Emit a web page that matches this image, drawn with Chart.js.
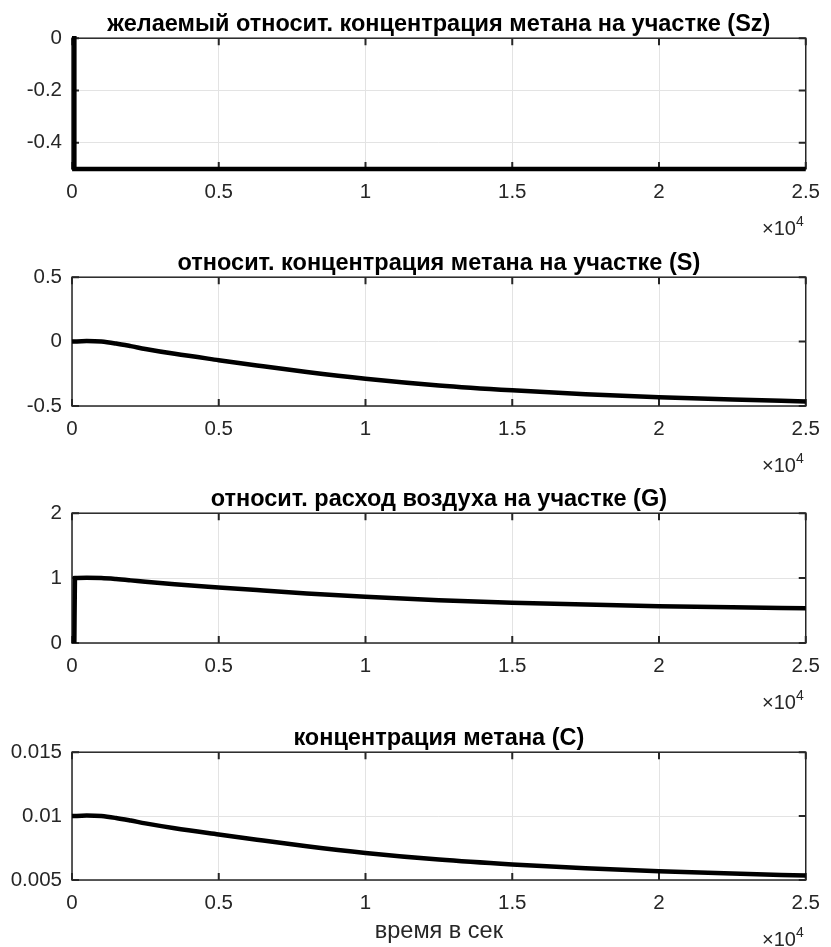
<!DOCTYPE html>
<html>
<head>
<meta charset="utf-8">
<title>Метан на участке</title>
<script src="https://cdn.jsdelivr.net/npm/chart.js@4"></script>
<style>
  html, body { margin: 0; padding: 0; background: #fff; }
  body { width: 831px; height: 947px; position: relative; overflow: hidden; }
  canvas { position: absolute; left: 0; }
</style>
</head>
<body>
<canvas id="p1" width="831" height="239" style="top:0px"></canvas>
<canvas id="p2" width="831" height="237" style="top:239px"></canvas>
<canvas id="p3" width="831" height="238" style="top:475px"></canvas>
<canvas id="p4" width="831" height="233" style="top:714px"></canvas>
<script>
// time, s
const tSec = [0, 500, 1000, 1500, 2000, 2500, 3500, 5000, 6300, 8000, 10000, 12500, 15000, 17500, 20000, 22500, 25000];

// Sz - desired relative concentration (step at start)
const szT = [0, 80, 80, 25000];
const szVal = [0, 0, -0.5, -0.5];

// S - relative methane concentration
const sVal = [0, 0.004, 0, -0.015, -0.035, -0.057, -0.095, -0.144, -0.185, -0.236, -0.288, -0.34, -0.378, -0.408, -0.432, -0.45, -0.465];

// G - relative air flow (starts from 0)
const gT = [80, 100, 500, 1000, 1500, 2000, 2500, 3500, 5000, 6300, 8000, 10000, 12500, 15000, 17500, 20000, 22500, 25000];
const gVal = [0, 1.0, 1.004, 1.0, 0.985, 0.965, 0.943, 0.905, 0.856, 0.815, 0.764, 0.712, 0.66, 0.622, 0.592, 0.568, 0.55, 0.535];

// C - methane concentration
const cVal = [0.01, 0.01004, 0.01, 0.00985, 0.00965, 0.00943, 0.00905, 0.00856, 0.00815, 0.00764, 0.00712, 0.0066, 0.00622, 0.00592, 0.00568, 0.0055, 0.00535];

const xTicks = [0, 5000, 10000, 15000, 20000, 25000];
const xTickLabels = ['0', '0.5', '1', '1.5', '2', '2.5'];

const yTicks1 = [-0.4, -0.2, 0];
const yLabels1 = ['-0.4', '-0.2', '0'];
const yTicks2 = [-0.5, 0, 0.5];
const yLabels2 = ['-0.5', '0', '0.5'];
const yTicks3 = [0, 1, 2];
const yLabels3 = ['0', '1', '2'];
const yTicks4 = [0.005, 0.01, 0.015];
const yLabels4 = ['0.005', '0.01', '0.015'];

const titles = [
  'желаемый относит. концентрация метана на участке (Sz)',
  'относит. концентрация метана на участке (S)',
  'относит. расход воздуха на участке (G)',
  'концентрация метана (C)'
];
const xLabel = 'время в сек';

const FONT = '"Liberation Sans", Arial, Helvetica, sans-serif';
const TXT = '#262626';
const GRID = '#e3e3e3';

// axes box, inward tick marks and the x10^4 exponent
const frame = {
  id: 'frame',
  beforeDatasetsDraw(chart) {
    const { ctx, chartArea: a, scales: { x, y } } = chart;
    ctx.save();
    ctx.strokeStyle = TXT;
    ctx.lineWidth = 1.5;
    ctx.strokeRect(a.left, a.top, a.right - a.left, a.bottom - a.top);
    ctx.lineWidth = 2;
    ctx.beginPath();
    x.ticks.forEach(t => {
      const px = x.getPixelForValue(t.value);
      ctx.moveTo(px, a.bottom); ctx.lineTo(px, a.bottom - 7);
      ctx.moveTo(px, a.top); ctx.lineTo(px, a.top + 7);
    });
    y.ticks.forEach(t => {
      const py = y.getPixelForValue(t.value);
      ctx.moveTo(a.left, py); ctx.lineTo(a.left + 7, py);
      ctx.moveTo(a.right, py); ctx.lineTo(a.right - 7, py);
    });
    ctx.stroke();
    ctx.restore();
  },
  afterDraw(chart) {
    const { ctx, chartArea: a } = chart;
    const base = a.bottom + 66;
    ctx.save();
    ctx.fillStyle = TXT;
    ctx.textBaseline = 'alphabetic';
    ctx.textAlign = 'right';
    ctx.font = '14px ' + FONT;
    const w4 = ctx.measureText('4').width;
    ctx.fillText('4', a.right - 2, base - 9);
    ctx.font = '20px ' + FONT;
    ctx.fillText('×10', a.right - 2 - w4, base);
    ctx.restore();
  }
};

function makePlot(id, xs, ys, yMin, yMax, yTicks, yLabels, title, xAxisH, smooth, xlab) {
  const pts = xs.map((x, i) => ({ x: x, y: ys[i] }));
  return new Chart(document.getElementById(id), {
    type: 'line',
    data: {
      datasets: [{
        data: pts,
        borderColor: '#000',
        borderWidth: 4.5,
        pointRadius: 0,
        cubicInterpolationMode: smooth ? 'monotone' : 'default',
        tension: 0,
        fill: false,
        clip: 8
      }]
    },
    options: {
      responsive: false,
      animation: false,
      events: [],
      layout: { padding: { left: 0, right: 16, top: 0, bottom: 0 } },
      plugins: {
        legend: { display: false },
        tooltip: { enabled: false },
        title: {
          display: true,
          fullSize: false,
          text: title,
          color: '#000',
          font: { family: FONT, size: 23.5, weight: 'bold' },
          padding: { top: 10, bottom: 0 }
        }
      },
      scales: {
        x: {
          type: 'linear',
          min: 0,
          max: 25000,
          afterBuildTicks: s => { s.ticks = xTicks.map(v => ({ value: v })); },
          afterFit: s => { s.height = xAxisH; },
          grid: { color: GRID, drawTicks: false },
          border: { display: false },
          ticks: {
            padding: 11,
            color: TXT,
            font: { family: FONT, size: 20.5 },
            maxRotation: 0,
            autoSkip: false,
            callback: (v, i) => xTickLabels[i]
          },
          title: xlab ? {
            display: true,
            text: xlab,
            color: TXT,
            font: { family: FONT, size: 23.5 },
            padding: { top: 0, bottom: 1 }
          } : { display: false }
        },
        y: {
          type: 'linear',
          min: yMin,
          max: yMax,
          afterBuildTicks: s => { s.ticks = yTicks.map(v => ({ value: v })); },
          afterFit: s => { s.width = 72; },
          grid: { color: GRID, drawTicks: false },
          border: { display: false },
          ticks: {
            padding: 10,
            color: TXT,
            font: { family: FONT, size: 20.5 },
            autoSkip: false,
            callback: (v, i) => yLabels[i]
          }
        }
      }
    },
    plugins: [frame]
  });
}

makePlot('p1', szT, szVal, -0.5, 0, yTicks1, yLabels1, titles[0], 70, false);
makePlot('p2', tSec, sVal, -0.5, 0.5, yTicks2, yLabels2, titles[1], 70, true);
makePlot('p3', gT, gVal, 0, 2, yTicks3, yLabels3, titles[2], 70, true);
makePlot('p4', tSec, cVal, 0.005, 0.015, yTicks4, yLabels4, titles[3], 67, true, xLabel);
</script>
</body>
</html>
